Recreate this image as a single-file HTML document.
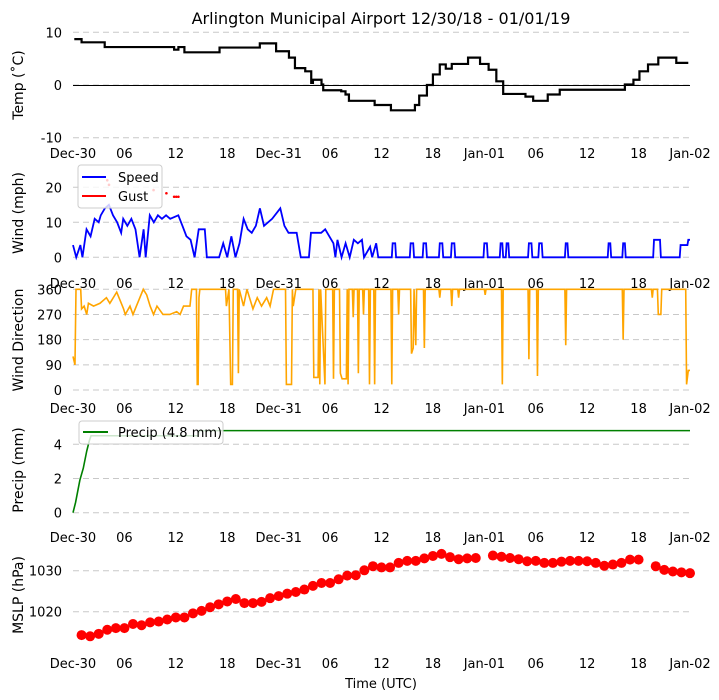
<!DOCTYPE html>
<html><head><meta charset="utf-8">
<style>
html,body{margin:0;padding:0;background:#fff;}
svg{display:block;font-family:"DejaVu Sans","Liberation Sans",sans-serif;}
</style></head>
<body>
<svg id="chart" width="719" height="700" viewBox="0 0 719 700" xmlns="http://www.w3.org/2000/svg">
<text x="381" y="24" text-anchor="middle" font-size="16">Arlington Municipal Airport 12/30/18 - 01/01/19</text>
<text x="381" y="688" text-anchor="middle" font-size="13">Time (UTC)</text>
</svg>
<script>
// ---- data ----
const xTickHours = [0,6,12,18,24,30,36,42,48,54,60,66,72];
const xTickLabels = ["Dec-30","06","12","18","Dec-31","06","12","18","Jan-01","06","12","18","Jan-02"];

const tempHours = [0.15,1,3.7,11.8,12.3,13.0,17.1,21.8,23.7,25.2,25.9,27.1,27.8,28.0,29.0,29.2,31.3,31.8,32.2,35.2,37.1,39.9,40.4,41.3,42.0,42.8,43.5,44.2,46.1,47.5,48.5,49.4,50.2,52.8,53.7,55.4,56.8,64.4,65.4,66.1,67.1,68.3,70.4,71.8];
const tempValues = [8.7,8.1,7.2,6.7,7.2,6.2,7.1,7.9,6.4,5.2,3.2,2.6,0.4,1.0,0.1,-1.0,-1.2,-1.8,-3.0,-3.8,-4.8,-3.8,-2.0,0,2.0,3.9,3.1,4.0,5.2,4.0,2.9,0.7,-1.7,-2.2,-3.0,-1.8,-0.9,0.1,1.0,2.6,3.9,5.2,4.2,4.2];

const windHours = [0,0.38,0.86,1.1,1.34,1.58,2.05,2.53,3.0,3.24,3.72,4.19,4.67,5.15,5.62,5.86,6.34,6.81,7.29,7.77,8.24,8.48,8.96,9.43,9.91,10.38,10.86,11.34,12.29,12.77,13.24,13.72,14.19,14.67,15.38,15.62,17.05,17.53,18.0,18.48,18.96,19.43,19.91,20.39,20.86,21.34,21.81,22.29,23.24,24.19,24.67,25.15,26.1,26.58,27.53,27.77,28.96,29.43,29.91,30.39,30.62,30.86,31.34,31.81,32.29,32.77,33.24,33.72,33.96,34.67,34.91,35.38,35.62,
 37.2,37.3,37.6,37.7, 39.3,39.4,39.7,39.8, 40.8,40.9,41.2,41.3, 42.7,42.8,43.1,43.2, 44.1,44.2,44.5,44.6, 47.9,48.0,48.3,48.4, 49.8,49.9,50.1,50.2, 50.5,50.6,50.8,50.9, 53.1,53.2,53.5,53.6, 54.3,54.4,54.7,54.8, 57.4,57.5,57.7,57.8, 62.4,62.5,62.7,62.8, 64.1,64.2,64.4,64.5, 67.7,67.8,68.5,68.6, 70.8,70.9,71.7,71.8,72];
const windSpeed = [3.5,0,3.5,0,4,8,6,11,10,12,14,15,12,10,7,11,9,11,8,0,8,0,12,10,12,11,12,11,12,9,6,5,0,8,8,0,0,4,0,6,0,4,11,8,7,9,14,9,11,14,9,7,7,0,0,7,7,8,6,4,0,5,0,4,0,5,4,5,0,3,0,4,0,
 0,4,4,0, 0,4,4,0, 0,4,4,0, 0,4,4,0, 0,4,4,0, 0,4,4,0, 0,4,4,0, 0,4,4,0, 0,4,4,0, 0,4,4,0, 0,4,4,0, 0,4,4,0, 0,4,4,0, 0,5,5,0, 0,3.5,3.5,5,5];
const gustHours = [4.0,4.2,9.4,10.9,11.8,12.05,12.3];
const gustValues = [22,20.7,19.2,18.3,17.3,17.3,17.3];

const dirHours = [0,0.23,0.35,0.9,1.0,1.3,1.6,1.8,2.4,3.15,3.9,4.3,5.1,5.5,5.9,6.1,6.65,7.0,7.4,7.8,8.2,8.6,9.0,9.4,9.8,10.5,11.3,12.1,12.5,12.9,13.65,13.85,14.4,14.5,14.6,14.7,14.8,17.8,17.9,18.2,18.4,18.6,18.7,19.2,19.3,19.4,19.9,20.3,21.0,21.5,22.0,22.6,23.0,23.4,24.8,24.9,25.5,25.6,25.7,26.0,28.0,28.1,28.6,28.7,28.8,28.9,29.4,29.5,30.3,30.4,30.5,31.1,31.2,31.4,31.9,32.0,32.1,32.2,32.6,32.7,32.8,33.2,33.3,33.4,33.8,33.9,34.0,34.5,34.6,34.7,35.1,35.2,35.3,
 37.1,37.2,37.3, 37.9,38.0,38.1, 39.4,39.5,39.7,39.8,40.0,40.1, 40.9,41.0,41.1, 42.7,42.8,42.9, 44.1,44.2,44.3, 44.9,45.0,45.1, 48.0,48.1,48.2, 50.0,50.1,50.2, 53.1,53.2,53.3, 54.1,54.2,54.3, 57.4,57.5,57.6, 64.1,64.2,64.3, 67.5,67.6,67.7, 68.2,68.3,68.6,68.7, 71.5,71.6,71.8,72];
const dirValues = [120,90,360,360,290,300,270,310,300,310,330,310,350,320,290,270,300,270,300,330,360,340,300,270,300,270,270,280,270,300,300,360,360,20,20,330,360,360,300,360,20,20,360,360,60,360,300,360,290,330,300,330,300,360,360,20,20,360,300,360,360,45,45,360,20,360,20,360,360,40,360,360,60,40,40,360,20,360,360,260,360,360,60,360,360,270,360,360,20,360,360,20,360,
 360,20,360, 360,270,360, 360,130,150,360,160,360, 360,150,360, 360,330,360, 360,300,360, 360,330,360, 360,340,360, 360,20,360, 360,110,360, 360,50,360, 360,160,360, 360,180,360, 360,330,360, 360,270,270,360, 360,20,70,70];

const precipHours = [0,0.3,0.8,1.2,1.6,1.9,2.1,14.6,14.7,72];
const precipValues = [0,0.6,1.9,2.6,3.6,4.2,4.5,4.5,4.8,4.8];

const mslpHours = [1,2,3,4,5,6,7,8,9,10,11,12,13,14,15,16,17,18,19,20,21,22,23,24,25,26,27,28,29,30,31,32,33,34,35,36,37,38,39,40,41,42,43,44,45,46,47,
 49,50,51,52,53,54,55,56,57,58,59,60,61,62,63,64,65,66, 68,69,70,71,72];
const mslpValues = [1014.3,1014.0,1014.6,1015.6,1016.0,1016.0,1017.0,1016.7,1017.4,1017.6,1018.1,1018.6,1018.6,1019.6,1020.2,1021.1,1021.8,1022.5,1023.1,1022.1,1022.1,1022.4,1023.3,1023.8,1024.4,1024.8,1025.4,1026.3,1027.0,1027.0,1027.9,1028.8,1028.9,1030.1,1031.1,1030.8,1030.8,1031.9,1032.4,1032.4,1033.0,1033.6,1034.1,1033.3,1032.8,1033.0,1033.1,
 1033.7,1033.4,1033.1,1032.8,1032.3,1032.4,1031.9,1031.9,1032.2,1032.4,1032.4,1032.3,1031.9,1031.2,1031.5,1031.9,1032.7,1032.7, 1031.1,1030.2,1029.8,1029.6,1029.4];

// ---- layout ----
const NS = "http://www.w3.org/2000/svg";
const svg = document.getElementById('chart');
const X0 = 73, X1 = 690;
const xs = h => X0 + (X1 - X0) * h / 72;
function mk(tag, attrs, parent) {
  const e = document.createElementNS(NS, tag);
  for (const k in attrs) e.setAttribute(k, attrs[k]);
  (parent || svg).appendChild(e);
  return e;
}
function yScale(v0, p0, v1, p1) { return v => p0 + (v - v0) * (p1 - p0) / (v1 - v0); }

const panels = [
  {key:'temp', title:'Temp (\u02daC)', ys:yScale(-10,137.7,10,32.3), ticks:[-10,0,10], tickY:153, mid:85},
  {key:'wind', title:'Wind (mph)', ys:yScale(0,257.3,20,187.3), ticks:[0,10,20], tickY:283, mid:213},
  {key:'dir', title:'Wind Direction', ys:yScale(0,390,360,289.3), ticks:[0,90,180,270,360], tickY:408, mid:340},
  {key:'precip', title:'Precip (mm)', ys:yScale(0,512.7,4,444.3), ticks:[0,2,4], tickY:537, mid:470},
  {key:'mslp', title:'MSLP (hPa)', ys:yScale(1020,611.7,1030,570.7), ticks:[1020,1030], tickY:663, mid:595}
];

panels.forEach(p => {
  const g = mk('g', {});
  
  
  p.ticks.forEach(t => {
    const y = p.ys(t);
    const gl = mk('line', {x1:X0, x2:X1, y1:y, y2:y, stroke:'#c8c8c8', 'stroke-width':1, 'stroke-dasharray':'6,4'}, g);
    
    
    const tl = mk('text', {x:62, y:y+5, 'text-anchor':'end', 'font-size':13}, g);
    tl.textContent = t;
    
    
  });
  xTickHours.forEach((h, i) => {
    const tx = mk('text', {x:xs(h), y:p.tickY+5, 'text-anchor':'middle', 'font-size':13}, g);
    tx.textContent = xTickLabels[i];
    
    
  });
  const yt = mk('text', {x:0, y:0, 'text-anchor':'middle', 'font-size':14, transform:`translate(23,${p.mid}) rotate(-90)`}, g);
  yt.textContent = p.title;
  
  
  p.g = g;
});

function linePath(hs, vs, ys, step) {
  let d = '';
  for (let i = 0; i < hs.length; i++) {
    const x = xs(hs[i]), y = ys(vs[i]);
    if (i === 0) d += `M${x},${y}`;
    else if (step) d += `L${x},${ys(vs[i-1])}L${x},${y}`;
    else d += `L${x},${y}`;
  }
  return d;
}

const P = {}; panels.forEach(p => P[p.key] = p);
const zy = Math.round(P.temp.ys(0)) + 0.5;
const zl = mk('line', {x1:X0, x2:X1, y1:zy, y2:zy, stroke:'#000', 'stroke-width':1}, P.temp.g);



const tl = mk('path', {d:linePath(tempHours, tempValues, P.temp.ys, true), fill:'none', stroke:'#000', 'stroke-width':2.2}, P.temp.g);



const wl = mk('path', {d:linePath(windHours, windSpeed, P.wind.ys, false), fill:'none', stroke:'#0000ff', 'stroke-width':1.8}, P.wind.g);


gustHours.forEach((h, i) => {
  const c = mk('circle', {cx:xs(h), cy:P.wind.ys(gustValues[i]), r:1.3, fill:'#ff0000'}, P.wind.g);
  
  
});

const dl = mk('path', {d:linePath(dirHours, dirValues, P.dir.ys, false), fill:'none', stroke:'#ffa500', 'stroke-width':1.6}, P.dir.g);



const pl = mk('path', {d:linePath(precipHours, precipValues, P.precip.ys, false), fill:'none', stroke:'#008000', 'stroke-width':1.6}, P.precip.g);



mslpHours.forEach((h, i) => {
  const c = mk('circle', {cx:xs(h), cy:P.mslp.ys(mslpValues[i]), r:5, fill:'#ff0000'}, P.mslp.g);
  
  
});

const lw = mk('g', {});


mk('rect', {x:78, y:165, width:84, height:43, rx:3, fill:'#fff', 'fill-opacity':0.8, stroke:'#ccc'}, lw);
mk('line', {x1:82, x2:106, y1:177, y2:177, stroke:'#0000ff', 'stroke-width':2}, lw);
const s1 = mk('text', {x:118, y:182, 'font-size':13}, lw); s1.textContent = 'Speed';


mk('line', {x1:82, x2:106, y1:196, y2:196, stroke:'#ff0000', 'stroke-width':2}, lw);
const s2 = mk('text', {x:118, y:201, 'font-size':13}, lw); s2.textContent = 'Gust';



const lp = mk('g', {});


mk('rect', {x:79, y:421, width:144, height:23, rx:3, fill:'#fff', 'fill-opacity':0.8, stroke:'#ccc'}, lp);
mk('line', {x1:83, x2:108, y1:432, y2:432, stroke:'#008000', 'stroke-width':2}, lp);
const s3 = mk('text', {x:118, y:437, 'font-size':13}, lp); s3.textContent = 'Precip (4.8 mm)';


</script>
</body></html>
